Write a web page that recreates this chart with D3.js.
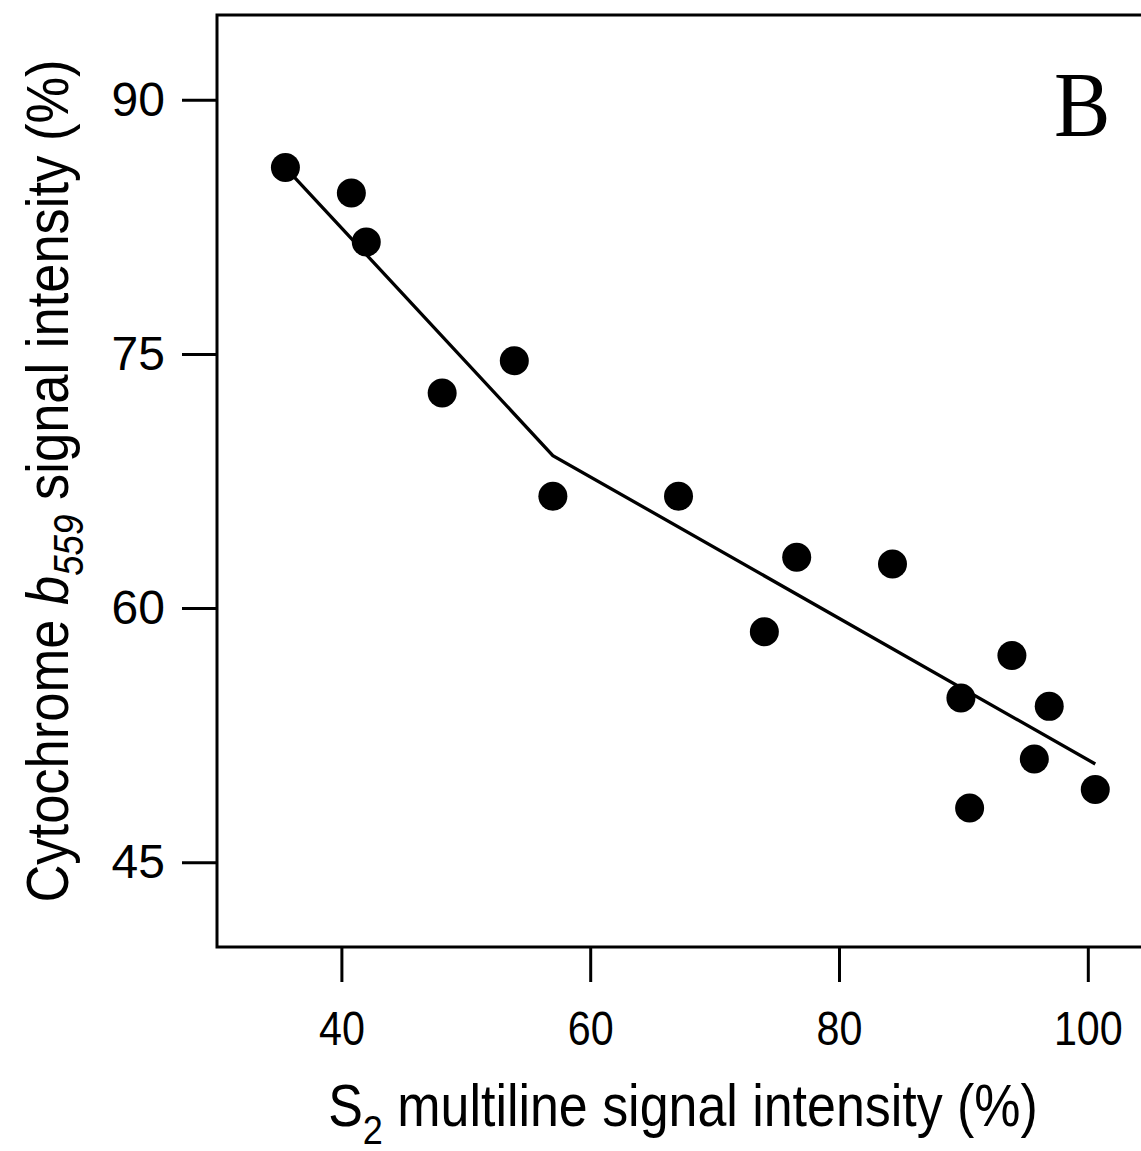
<!DOCTYPE html>
<html>
<head>
<meta charset="utf-8">
<script src="https://cdn.jsdelivr.net/npm/d3@7"></script>
<style>
  body { margin: 0; background: white; }
</style>
</head>
<body>
<svg id="main-svg"></svg>
<script>
const svg = d3.select("#main-svg");

// DATA
const s2Values = [35.5, 40.8, 42.0, 48.1, 53.9, 57.0, 67.1, 74.0, 76.6, 84.3, 89.8, 90.5, 93.9, 96.9, 95.7, 100.6];
const cytValues = [86.0, 84.5, 81.6, 72.7, 74.6, 66.6, 66.6, 58.6, 63.0, 62.6, 54.7, 48.2, 57.2, 54.2, 51.1, 49.3];
const fitX = [35.5, 57.0, 100.6];
const fitY = [86.0, 69.0, 50.8];
const xTicks = [40, 60, 80, 100];
const yTicks = [45, 60, 75, 90];

// LAYOUT
CANVAS_WIDTH = 1141
CANVAS_HEIGHT = 1151
PLOT_LEFT = 217
PLOT_TOP = 15
PLOT_BOTTOM = 947
PX_PER_X = 12.44
SANS = "Liberation Sans, Arial, sans-serif"
SQUEEZE = 0.86   // the original lettering is a bit narrow

svg.attr("width", CANVAS_WIDTH)
  .attr("height", CANVAS_HEIGHT)
  .attr("font-family", SANS);

const x = d3.scaleLinear()
  .domain([30, 106])
  .range([PLOT_LEFT, PLOT_LEFT + 76 * PX_PER_X]);

const y = d3.scaleLinear()
  .domain([40, 95])
  .range([PLOT_BOTTOM, PLOT_TOP]);

// frame (right side runs off the picture)
svg.append("rect")
  .attr("x", x(30))
  .attr("y", y(95))
  .attr("width", x(106) - x(30))
  .attr("height", y(40) - y(95))
  .attr("fill", "none")
  .attr("stroke", "black")
  .attr("stroke-width", 3);

// x axis
const xAxis = d3.axisBottom(x)
  .tickValues(xTicks)
  .tickSize(35)
  .tickPadding(29);

const gx = svg.append("g")
  .attr("transform", `translate(0 ${PLOT_BOTTOM})`)
  .call(xAxis);
gx.select(".domain").remove();
gx.selectAll(".tick line").attr("stroke", "black").attr("stroke-width", 3);
gx.selectAll(".tick text")
  .attr("font-size", 48)
  .attr("font-family", SANS)
  .attr("fill", "black")
  .attr("transform", `scale(${SQUEEZE},1)`);

// y axis
const yAxis = d3.axisLeft(y)
  .tickValues(yTicks)
  .tickSize(35)
  .tickPadding(17);

const gy = svg.append("g")
  .attr("transform", `translate(${PLOT_LEFT} 0)`)
  .call(yAxis);
gy.select(".domain").remove();
gy.selectAll(".tick line").attr("stroke", "black").attr("stroke-width", 3);
gy.selectAll(".tick text")
  .attr("font-size", 48)
  .attr("font-family", SANS)
  .attr("fill", "black");

// fitted broken line
const line = d3.line()
  .x((d, i) => x(fitX[i]))
  .y(d => y(d));

svg.append("path")
  .datum(fitY)
  .attr("d", line)
  .attr("fill", "none")
  .attr("stroke", "black")
  .attr("stroke-width", 3.3);

// points
svg.selectAll("circle.pt")
  .data(s2Values)
  .enter()
  .append("circle")
  .attr("class", "pt")
  .attr("cx", d => x(d))
  .attr("cy", (d, i) => y(cytValues[i]))
  .attr("r", 14.5)
  .attr("fill", "black");

// x title
const xTitle = svg.append("text")
  .attr("transform", `translate(683 1126) scale(0.88,1)`)
  .attr("text-anchor", "middle")
  .attr("font-size", 59)
  .attr("fill", "black");
xTitle.append("tspan").text("S");
xTitle.append("tspan").attr("font-size", 41).attr("dy", 18).text("2");
xTitle.append("tspan").attr("dy", -18).text(" multiline signal intensity (%)");

// y title
const yTitle = svg.append("text")
  .attr("transform", `translate(68 481) rotate(-90) scale(0.875,1)`)
  .attr("text-anchor", "middle")
  .attr("font-size", 60)
  .attr("fill", "black");
yTitle.append("tspan").text("Cytochrome ");
yTitle.append("tspan").attr("font-style", "italic").text("b");
yTitle.append("tspan").attr("font-size", 42).attr("font-style", "italic").attr("dy", 15).text("559");
yTitle.append("tspan").attr("dy", -15).text(" signal intensity (%)");

// panel letter
svg.append("text")
  .attr("transform", `translate(1054 136) scale(0.9,1)`)
  .attr("font-size", 94)
  .attr("font-family", "Liberation Serif, Times New Roman, serif")
  .attr("fill", "black")
  .text("B");
</script>
</body>
</html>
